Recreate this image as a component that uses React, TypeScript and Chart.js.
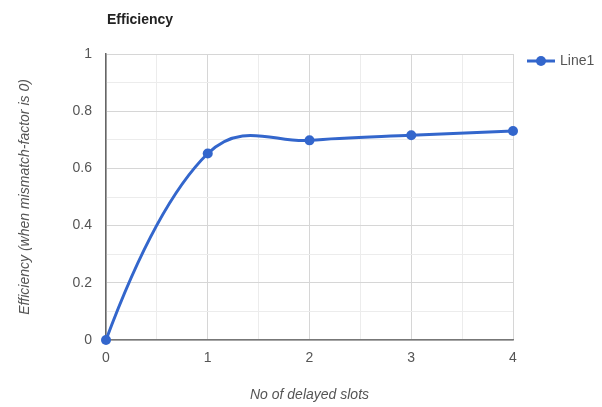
import React, { useEffect, useRef } from "react";
import { Chart, registerables } from "chart.js";

Chart.register(...registerables);

const xValues = [0, 1, 2, 3, 4];
const efficiency = [0, 0.652, 0.698, 0.716, 0.731];
const seriesName = "Line1";
const chartTitle = "Efficiency";
const xTitle = "No of delayed slots";
const yTitle = "Efficiency (when mismatch-factor is 0)";

const FONT = "'Liberation Sans', Arial, sans-serif";
const BLUE = "#3366cc";

// Catmull-Rom style smoothing (uniform parameter, quadratic end conditions)
const smoothCurve = {
  id: "smoothCurve",
  beforeDatasetDraw(chart: any, args: any) {
    const meta = chart.getDatasetMeta(args.index);
    const line = meta.dataset;
    if (!line) return;
    line.updateControlPoints(chart.chartArea, meta.indexAxis || "x");
    const pts = meta.data;
    const n = pts.length;
    if (n < 3) return;
    const mx: number[] = [];
    const my: number[] = [];
    for (let i = 1; i < n - 1; i++) {
      mx[i] = (pts[i + 1].x - pts[i - 1].x) / 2;
      my[i] = (pts[i + 1].y - pts[i - 1].y) / 2;
    }
    mx[0] = 2 * (pts[1].x - pts[0].x) - mx[1];
    my[0] = 2 * (pts[1].y - pts[0].y) - my[1];
    mx[n - 1] = 2 * (pts[n - 1].x - pts[n - 2].x) - mx[n - 2];
    my[n - 1] = 2 * (pts[n - 1].y - pts[n - 2].y) - my[n - 2];
    for (let i = 0; i < n; i++) {
      const p = pts[i];
      p.cp1x = p.x - mx[i] / 3;
      p.cp1y = p.y - my[i] / 3;
      p.cp2x = p.x + mx[i] / 3;
      p.cp2y = p.y + my[i] / 3;
    }
  },
};

export default function App() {
  const ref = useRef<HTMLCanvasElement>(null);
  useEffect(() => {
    document.body.style.margin = "0";
    const canvas = ref.current!;
    const overlay = {
      id: "overlay",
      afterDraw(chart: any) {
        const ctx = chart.ctx;
        const area = chart.chartArea;
        ctx.save();
        ctx.fillStyle = "#222";
        ctx.font = `bold 14px ${FONT}`;
        ctx.textBaseline = "middle";
        ctx.textAlign = "left";
        ctx.fillText(chartTitle, area.left + 1, 20);
        // legend
        const ly = 61;
        const lx = 527;
        ctx.strokeStyle = BLUE;
        ctx.lineWidth = 3;
        ctx.beginPath();
        ctx.moveTo(lx, ly);
        ctx.lineTo(lx + 28, ly);
        ctx.stroke();
        ctx.fillStyle = BLUE;
        ctx.beginPath();
        ctx.arc(lx + 14, ly, 5, 0, Math.PI * 2);
        ctx.fill();
        ctx.fillStyle = "#555";
        ctx.font = `14px ${FONT}`;
        ctx.fillText(seriesName, lx + 33, ly);
        ctx.restore();
      },
    };
    const chart = new Chart(canvas, {
      type: "line",
      data: {
        datasets: [
          {
            label: seriesName,
            data: xValues.map((x, i) => ({ x, y: efficiency[i] })),
            borderColor: BLUE,
            backgroundColor: BLUE,
            borderWidth: 3,
            pointRadius: 5,
            pointBackgroundColor: BLUE,
            pointBorderWidth: 0,
            tension: 0.4,
            clip: false,
          },
        ],
      },
      options: {
        animation: false,
        responsive: false,
        layout: { padding: { top: 54, right: 89, left: 0, bottom: 0 } },
        plugins: { legend: { display: false }, title: { display: false }, tooltip: { enabled: false } },
        scales: {
          x: {
            type: "linear",
            min: 0,
            max: 4,
            ticks: {
              stepSize: 0.5,
              autoSkip: false,
              maxRotation: 0,
              padding: 10,
              color: "#555",
              font: { family: FONT, size: 14 },
              callback: (v: any) => (Number.isInteger(v) ? String(v) : ""),
            },
            grid: {
              drawTicks: false,
              color: (c: any) => (Number.isInteger(c.tick?.value) ? "#d6d6d6" : "#ececec"),
            },
            border: { color: "#777", width: 1.5 },
            title: {
              display: true,
              text: xTitle,
              color: "#555",
              font: { family: FONT, size: 14, style: "italic" },
              padding: { top: 0, bottom: 3 },
            },
            afterFit: (s: any) => {
              s.height = 67;
            },
          },
          y: {
            min: 0,
            max: 1,
            ticks: {
              stepSize: 0.1,
              autoSkip: false,
              padding: 14,
              color: "#555",
              font: { family: FONT, size: 14 },
              callback: (v: any) => {
                const r = Math.round(v * 10);
                return r % 2 === 0 ? String(r / 10) : "";
              },
            },
            grid: {
              drawTicks: false,
              color: (c: any) => {
                const r = Math.round((c.tick?.value ?? 0) * 10);
                return r % 2 === 0 ? "#d6d6d6" : "#ececec";
              },
            },
            border: { color: "#666", width: 1.5 },
            title: {
              display: true,
              text: yTitle,
              color: "#555",
              font: { family: FONT, size: 14, style: "italic" },
              padding: { top: 17, bottom: 0 },
            },
            afterFit: (s: any) => {
              s.width = 106;
            },
          },
        },
      },
      plugins: [smoothCurve, overlay],
    } as any);
    return () => chart.destroy();
  }, []);
  return <canvas ref={ref} width={602} height={407} style={{ display: "block" }} />;
}
